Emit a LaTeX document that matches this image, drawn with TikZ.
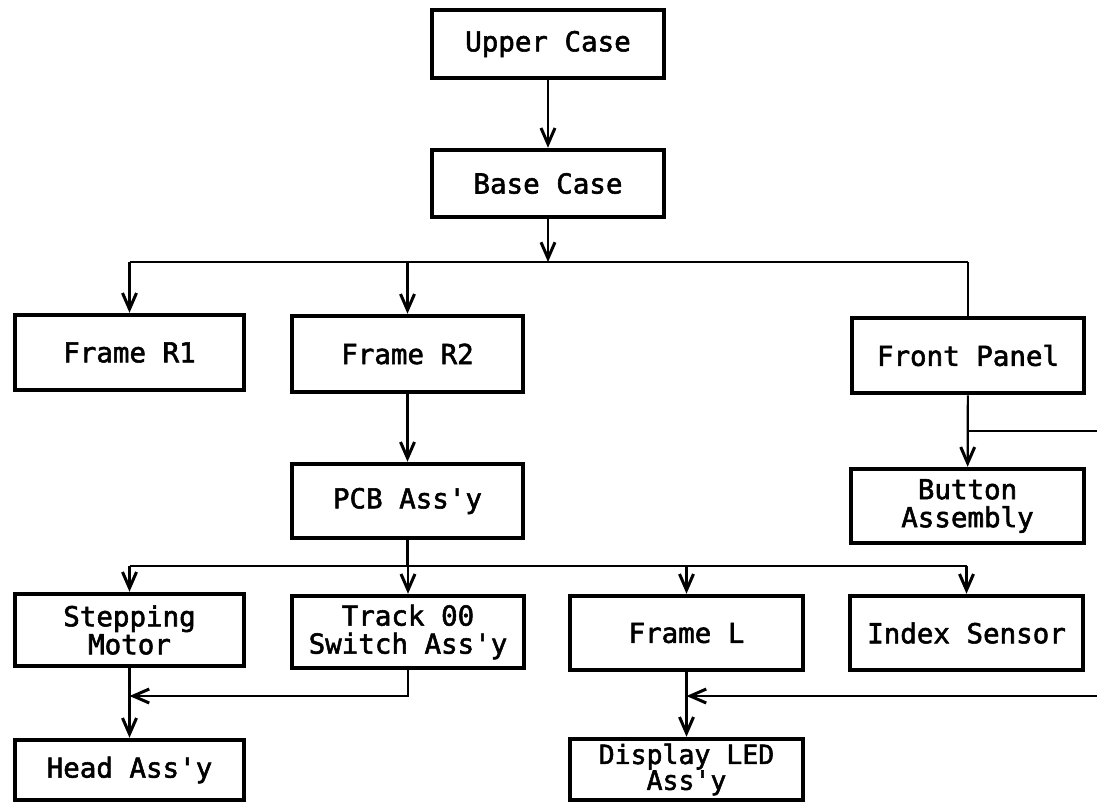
\documentclass[tikz,border=0pt]{standalone}
\usepackage{fontspec}
\newfontfamily\cad[FakeBold=2]{DejaVu Sans Mono}
\usetikzlibrary{arrows.meta}
\begin{document}
\begin{tikzpicture}[x=1pt,y=-1pt,
  box/.style={draw, line width=4.5pt, rectangle, inner sep=0pt,
    align=center, font=\cad\fontsize{27.5}{28}\selectfont},
  tight/.style={font=\cad\fontsize{26.5}{23}\selectfont},
  conn/.style={line width=2.2pt},
  arr/.style={conn, -{Straight Barb[length=16pt,width=14pt,line width=3pt]}}]
\useasboundingbox (0,0) rectangle (1097,804);
% boxes
\node[box, minimum width=232pt, minimum height=68pt] (up)   at (548,44)    {Upper Case};
\node[box, minimum width=232pt, minimum height=67pt] (base) at (548,183.5) {Base Case};
\node[box, minimum width=229pt, minimum height=75pt] (r1)   at (129.5,352.5) {Frame R1};
\node[box, minimum width=231pt, minimum height=76pt] (r2)   at (407.5,354) {Frame R2};
\node[box, minimum width=232pt, minimum height=75pt] (fp)   at (968,355.5) {Front Panel};
\node[box, minimum width=233pt, minimum height=74pt] (btn)  at (967.5,506) {Button\\Assembly};
\node[box, minimum width=231pt, minimum height=74pt] (pcb)  at (407.5,501) {PCB Ass'y};
\node[box, minimum width=229pt, minimum height=72pt] (sm)   at (129.5,630) {Stepping\\Motor};
\node[box, minimum width=232pt, minimum height=72pt] (trk)  at (408,632)   {Track 00\\Switch Ass'y};
\node[box, minimum width=233pt, minimum height=74pt] (fl)   at (686.5,633) {Frame L};
\node[box, minimum width=233pt, minimum height=74pt] (idx)  at (966.5,633) {Index Sensor};
\node[box, minimum width=229pt, minimum height=60pt] (head) at (129.5,770) {Head Ass'y};
\node[box, tight, minimum width=233pt, minimum height=61pt] (disp) at (686.5,769.5) {Display LED\\Ass'y};
% junction coordinates
\coordinate (bus1) at (548,262);
\coordinate (bus2) at (407.5,566);
\coordinate (j1) at (408,696);
\coordinate (e1) at (1097,431);
\coordinate (e2) at (1097,696);
% connectors
\draw[arr] (up) -- (base);
\draw[arr] (base) -- (bus1);
\draw[conn] (bus1 -| r1) -- (bus1 -| fp);
\draw[arr] (bus1 -| r1) -- (r1);
\draw[arr] (bus1 -| r2) -- (r2);
\draw[conn] (bus1 -| fp) -- (fp);
\draw[arr] (r2) -- (pcb);
\draw[arr] (fp) -- (btn);
\draw[conn] (e1 -| fp) -- (e1);
\draw[conn] (pcb) -- (bus2);
\draw[conn] (bus2 -| sm) -- (bus2 -| idx);
\draw[arr] (bus2 -| sm) -- (sm);
\draw[arr] (bus2 -| trk) -- (trk);
\draw[arr] (bus2 -| fl) -- (fl);
\draw[arr] (bus2 -| idx) -- (idx);
\draw[arr] (sm) -- (head);
\draw[arr] (trk.south) -- (j1) -- (j1 -| sm);
\draw[arr] (fl) -- (disp);
\draw[arr] (e2) -- (e2 -| fl);
\end{tikzpicture}
\end{document}
